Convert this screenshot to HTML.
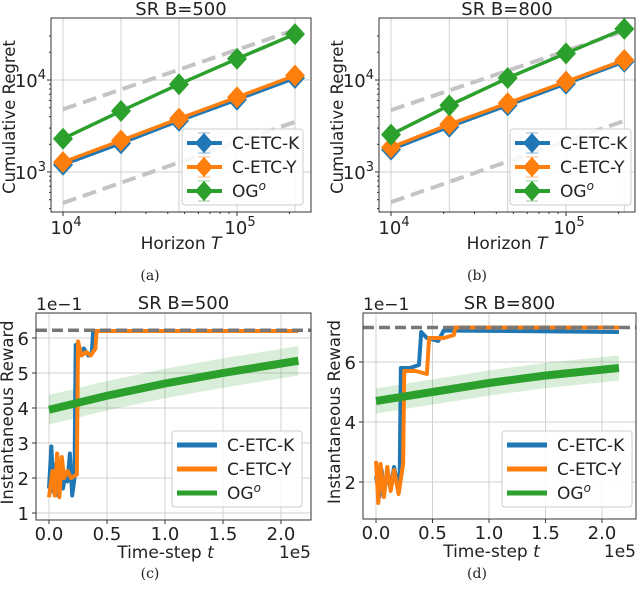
<!DOCTYPE html>
<html><head><meta charset="utf-8"><style>
body{margin:0;background:#fff}
svg{display:block}
text{font-family:"DejaVu Sans","Liberation Sans",sans-serif;fill:#222}
.cap{font-family:"DejaVu Serif","Liberation Serif",serif;font-size:14px}
</style></head><body>
<svg id="fig" width="640" height="596" viewBox="0 0 640 596" xmlns="http://www.w3.org/2000/svg"></svg>
<script>
// ---- data: regret plots (a),(b) ----
const horizons = [1e4, 2.154e4, 4.642e4, 1e5, 2.154e5];
const regretK_a = [1200, 2050, 3600, 6100, 10500];
const regretY_a = [1280, 2200, 3800, 6500, 11200];
const regretOG_a = [2300, 4600, 9000, 17000, 31500];
const refUpper_a = [4800, 35000];
const refLower_a = [460, 3500];
const regretK_b = [1750, 3100, 5300, 9100, 15800];
const regretY_b = [1850, 3300, 5600, 9600, 16500];
const regretOG_b = [2550, 5300, 10500, 19500, 36000];
const refUpper_b = [4700, 34000];
const refLower_b = [470, 3600];
const regretYTickExp = ["3", "4"];
// ---- data: reward plots (c),(d)  (t in units of 1e5) ----
const rewardK_c = [[0,1.7],[0.02,2.9],[0.04,1.6],[0.06,2.4],[0.08,1.5],[0.1,2.2],[0.12,1.7],[0.14,2.1],[0.16,1.9],[0.18,2.7],[0.2,1.5],[0.22,2.0],[0.23,5.8],[0.26,5.5],[0.3,5.7],[0.34,5.5],[0.37,5.6],[0.38,6.2],[2.15,6.2]];
const rewardY_c = [[0,1.45],[0.03,2.2],[0.05,1.5],[0.07,2.7],[0.09,1.45],[0.11,2.6],[0.13,2.0],[0.16,2.2],[0.19,2.0],[0.24,2.1],[0.25,5.9],[0.28,5.5],[0.32,5.6],[0.36,5.5],[0.4,5.7],[0.41,6.2],[2.15,6.2]];
const rewardOG_c = [[0,3.95],[0.5,4.35],[1.0,4.7],[1.5,5.0],[2.15,5.35]];
const optimal_c = 6.22;
const rewardK_d = [[0,2.2],[0.03,1.5],[0.05,2.4],[0.07,1.6],[0.1,2.3],[0.13,1.8],[0.16,2.5],[0.19,1.9],[0.21,2.3],[0.22,5.8],[0.3,5.8],[0.38,5.9],[0.4,7.0],[0.45,6.8],[0.55,6.7],[0.6,7.05],[2.15,7.0]];
const rewardY_d = [[0,2.7],[0.02,1.3],[0.04,2.6],[0.07,1.5],[0.1,2.5],[0.13,1.7],[0.16,2.4],[0.2,1.6],[0.24,2.6],[0.25,5.7],[0.35,5.7],[0.45,5.6],[0.47,6.8],[0.6,6.8],[0.69,6.9],[0.7,7.15],[2.15,7.15]];
const rewardOG_d = [[0,4.7],[0.5,5.0],[1.0,5.3],[1.5,5.55],[2.15,5.8]];
const optimal_d = 7.15;
const timeTicks = [0, 0.5, 1.0, 1.5, 2.0];
const timeTickLabels = ["0.0", "0.5", "1.0", "1.5", "2.0"];

const C = {K:"#1f77b4", Y:"#ff7f0e", G:"#2ca02c"};
const NS = "http://www.w3.org/2000/svg";
const svg = document.getElementById('fig');
function mk(tag, at, parent){const e=document.createElementNS(NS,tag);for(const k in at)e.setAttribute(k,at[k]);(parent||svg).appendChild(e);return e;}
function txt(s, at, parent){const e=mk('text',at,parent);e.textContent=s;return e;}
function pow10(x,y,exp,anchor,g){const t=txt('10',{x:x,y:y,'font-size':18,'text-anchor':anchor},g);const s=mk('tspan',{'font-size':13,dy:-8},t);s.textContent=exp;return t;}

function regretPlot(o){
  const g = mk('g',{});
  
  
  const X = t => o.x0 + (Math.log10(t)-4)*o.dec;
  const Y = v => o.y4 + (4-Math.log10(v))*92;
  horizons.forEach(t=>mk('line',{x1:X(t),x2:X(t),y1:o.top,y2:o.bot,stroke:'#d0d0d0','stroke-width':1},g));
  [1e3,1e4].forEach(v=>mk('line',{x1:o.left,x2:o.right,y1:Y(v),y2:Y(v),stroke:'#d0d0d0','stroke-width':1},g));
  [o.up,o.lo].forEach(r=>{const l=mk('line',{x1:X(horizons[0]),y1:Y(r[0]),x2:X(horizons[4]),y2:Y(r[1]),stroke:'#c4c4c4','stroke-width':4,'stroke-dasharray':'14,7'},g);
    });
  [[o.k,C.K,'series-c-etc-k'],[o.y,C.Y,'series-c-etc-y'],[o.g,C.G,'series-og']].forEach(([d,c,n])=>{
    const s=mk('g',{},g);
    
    
    mk('polyline',{points:d.map((v,i)=>X(horizons[i])+','+Y(v)).join(' '),fill:'none',stroke:c,'stroke-width':3.5},s);
    d.forEach((v,i)=>{const x=X(horizons[i]),y=Y(v);const p=mk('polygon',{points:`${x},${y-11} ${x+10},${y} ${x},${y+11} ${x-10},${y}`,fill:c},s);
      });
  });
  mk('rect',{x:o.left,y:o.top,width:o.right-o.left,height:o.bot-o.top,fill:'none',stroke:'#333','stroke-width':1},g);
  [4e2,5e2,6e2,7e2,8e2,9e2,2e3,3e3,4e3,5e3,6e3,7e3,8e3,9e3,2e4,3e4].forEach(v=>{const y=Y(v);if(y>o.top&&y<o.bot)mk('line',{x1:o.left-2,x2:o.left,y1:y,y2:y,stroke:'#333'},g);});
  [2e4,3e4,4e4,5e4,6e4,7e4,8e4,9e4,2e5].forEach(t=>mk('line',{x1:X(t),x2:X(t),y1:o.bot,y2:o.bot+2,stroke:'#333'},g));
  [1e4,1e5].forEach(t=>mk('line',{x1:X(t),x2:X(t),y1:o.bot,y2:o.bot+4,stroke:'#333'},g));
  [1e3,1e4].forEach(v=>mk('line',{x1:o.left-4,x2:o.left,y1:Y(v),y2:Y(v),stroke:'#333'},g));
  pow10(X(1e4)+3,o.bot+22,'4','middle',g);
  pow10(X(1e5)+3,o.bot+22,'5','middle',g);
  regretYTickExp.forEach((s,i)=>pow10(o.left-5,Y(i?1e4:1e3)+7,s,'end',g));
  const xl=txt('',{x:(o.left+o.right)/2,y:o.bot+37,'font-size':17,'text-anchor':'middle'},g);
  xl.innerHTML='Horizon <tspan font-style="italic">T</tspan>';
  
  const yl=txt('Cumulative Regret',{transform:`translate(${o.left-36},${(o.top+o.bot)/2+2}) rotate(-90)`,'font-size':16.5,'text-anchor':'middle'},g);
  
  const tt=txt(o.title,{x:(o.left+o.right)/2,y:o.top-3,'font-size':18,'text-anchor':'middle'},g);
  
  legend(g,o.lx,129,121,true);
}

function legend(g,lx,ly,w,err){
  const L=mk('g',{},g);
  
  
  mk('rect',{x:lx,y:ly,width:w,height:76,rx:3,fill:'#fff','fill-opacity':0.85,stroke:'#ccc'},L);
  [['C-ETC-K',C.K],['C-ETC-Y',C.Y],['OG',C.G]].forEach(([n,c],i)=>{
    const e=mk('g',{},L);
    
    
    const y=ly+14+i*24;
    const x2=err?lx+40:lx+45;
    mk('line',{x1:lx+5,x2:x2,y1:y,y2:y,stroke:c,'stroke-width':err?4:5},e);
    if(err){const x=lx+22;mk('line',{x1:x,x2:x,y1:y-10,y2:y+10,stroke:c,'stroke-width':1.5,opacity:0.5},e);
      mk('line',{x1:x-6,x2:x+6,y1:y-10,y2:y-10,stroke:c,opacity:0.5},e);mk('line',{x1:x-6,x2:x+6,y1:y+10,y2:y+10,stroke:c,opacity:0.5},e);
      mk('polygon',{points:`${x},${y-10} ${x+9},${y} ${x},${y+10} ${x-9},${y}`,fill:c},e);}
    const t=txt(n,{x:err?lx+50:lx+55,y:y+6,'font-size':17},e);
    if(n==='OG'){const s=mk('tspan',{'font-size':12,dy:-7,'font-style':'italic'},t);s.textContent='o';}
  });
}

function rewardPlot(o){
  const g = mk('g',{});
  
  
  const X = t => o.x0 + t*o.sx;
  const Y = v => o.ybase - (v-o.vbase)*o.sy;
  timeTicks.forEach(t=>mk('line',{x1:X(t),x2:X(t),y1:o.top,y2:o.bot,stroke:'#d0d0d0'},g));
  o.yt.forEach(v=>mk('line',{x1:o.left,x2:o.right,y1:Y(v),y2:Y(v),stroke:'#d0d0d0'},g));
  const band=o.g.map(p=>X(p[0])+','+Y(p[1]+0.42)).concat(o.g.slice().reverse().map(p=>X(p[0])+','+Y(p[1]-0.42))).join(' ');
  mk('polygon',{points:band,fill:C.G,opacity:0.18},g);
  const pl=(d,c,n,w)=>{const e=mk('polyline',{points:d.map(p=>X(p[0])+','+Y(p[1])).join(' '),fill:'none',stroke:c,'stroke-width':w,'stroke-linejoin':'round'},g);
    };
  pl(o.k,C.K,'series-c-etc-k',4);
  pl(o.y,C.Y,'series-c-etc-y',4);
  pl(o.g,C.G,'series-og',8);
  const opt=mk('line',{x1:o.left,x2:o.right,y1:Y(o.opt),y2:Y(o.opt),stroke:'#777','stroke-width':3.5,'stroke-dasharray':'11,5'},g);
  
  mk('rect',{x:o.left,y:o.top,width:o.right-o.left,height:o.bot-o.top,fill:'none',stroke:'#333'},g);
  timeTicks.forEach((t,i)=>{mk('line',{x1:X(t),x2:X(t),y1:o.bot,y2:o.bot+4,stroke:'#333'},g);
    txt(timeTickLabels[i],{x:X(t),y:o.bot+20,'font-size':18,'text-anchor':'middle'},g);});
  o.yt.forEach(v=>{mk('line',{x1:o.left-4,x2:o.left,y1:Y(v),y2:Y(v),stroke:'#333'},g);
    txt(String(v),{x:o.left-7,y:Y(v)+7,'font-size':18,'text-anchor':'end'},g);});
  txt('1e5',{x:o.right,y:o.bot+38,'font-size':17,'text-anchor':'end'},g);
  txt('1e−1',{x:o.left,y:o.top-3,'font-size':17},g);
  const xl=txt('',{x:(o.left+o.right)/2-8,y:o.bot+38,'font-size':17,'text-anchor':'middle'},g);
  xl.innerHTML='Time-step <tspan font-style="italic">t</tspan>';
  
  const yl=txt('Instantaneous Reward',{transform:`translate(${o.left-23},${(o.top+o.bot)/2-4}) rotate(-90)`,'font-size':16.5,'text-anchor':'middle'},g);
  
  const tt=txt(o.title,{x:(o.left+o.right)/2+10,y:o.top-4,'font-size':18,'text-anchor':'middle'},g);
  
  legend(g,o.lx,431,130,false);
}

regretPlot({name:'regret-chart-b500',title:'SR B=500',left:51,right:311,top:18,bot:212,x0:63,dec:174,y4:80,k:regretK_a,y:regretY_a,g:regretOG_a,up:refUpper_a,lo:refLower_a,lx:182});
regretPlot({name:'regret-chart-b800',title:'SR B=800',left:379,right:635,top:18,bot:212,x0:391,dec:175,y4:80,k:regretK_b,y:regretY_b,g:regretOG_b,up:refUpper_b,lo:refLower_b,lx:510});
rewardPlot({name:'reward-chart-b500',title:'SR B=500',left:36,right:311,top:313,bot:520,x0:49,sx:116,ybase:513,vbase:1,sy:35,yt:[1,2,3,4,5,6],k:rewardK_c,y:rewardY_c,g:rewardOG_c,opt:optimal_c,lx:172});
rewardPlot({name:'reward-chart-b800',title:'SR B=800',left:363,right:636,top:313,bot:519,x0:376,sx:113,ybase:482,vbase:2,sy:30,yt:[2,4,6],k:rewardK_d,y:rewardY_d,g:rewardOG_d,opt:optimal_d,lx:502});

[['(a)',150,280],['(b)',477,280],['(c)',150,578],['(d)',477,578]].forEach(([s,x,y])=>{
  const c=txt(s,{x:x,y:y,'text-anchor':'middle',class:'cap'});
  
  
});
</script>
</body></html>
